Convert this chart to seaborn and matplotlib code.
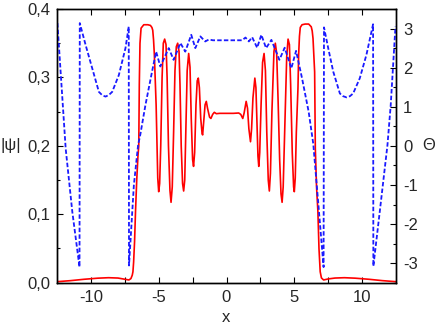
import matplotlib
matplotlib.use("Agg")
import matplotlib.pyplot as plt
import seaborn as sns
import pandas as pd
from matplotlib.ticker import FixedLocator, MultipleLocator

# |psi|(x)
psi_x = [-12.5, -11.5, -10.5, -9.5, -8.7, -8.0, -7.5, -7.2, -7.05, -6.95, -6.9, -6.85, -6.78, -6.71,
         -6.62, -6.53, -6.47, -6.43, -6.38, -6.3, -6.1, -5.8, -5.61, -5.5, -5.44, -5.38, -5.32, -5.19,
         -5.07, -5.0, -4.93, -4.85, -4.75, -4.66, -4.56, -4.46, -4.38, -4.28, -4.17, -4.09, -4.0, -3.9,
         -3.8, -3.7, -3.6, -3.5, -3.43, -3.34, -3.24, -3.16, -3.08, -3.0, -2.9, -2.79, -2.69, -2.6,
         -2.5, -2.43, -2.35, -2.25, -2.16, -2.08, -2.0, -1.9, -1.8, -1.76, -1.68, -1.58, -1.49, -1.4,
         -1.25, -1.15, -1.02, -0.9, -0.75, -0.5, 0.0, 0.5, 0.9, 1.05, 1.2, 1.3, 1.45, 1.55, 1.65,
         1.77, 1.85, 1.95, 2.09, 2.17, 2.25, 2.32, 2.38, 2.45, 2.55, 2.66, 2.77, 2.87, 2.97, 3.08,
         3.16, 3.24, 3.35, 3.5, 3.6, 3.7, 3.8, 3.92, 4.02, 4.1, 4.18, 4.3, 4.44, 4.54, 4.64, 4.73,
         4.85, 4.95, 5.0, 5.07, 5.15, 5.27, 5.32, 5.38, 5.44, 5.57, 5.8, 6.06, 6.25, 6.32, 6.38,
         6.45, 6.5, 6.55, 6.64, 6.74, 6.82, 6.91, 7.0, 7.16, 7.5, 8.0, 8.7, 9.5, 10.5, 11.5, 12.5]
psi_y = [0.0015, 0.003, 0.005, 0.0066, 0.0073, 0.0068, 0.005, 0.004, 0.006, 0.011, 0.016, 0.03, 0.06, 0.104,
         0.15, 0.185, 0.2, 0.29, 0.35, 0.372, 0.377, 0.377, 0.376, 0.373, 0.369, 0.355, 0.333, 0.26,
         0.153, 0.133, 0.145, 0.2, 0.3, 0.35, 0.356, 0.348, 0.3, 0.2, 0.135, 0.1175, 0.14, 0.22,
         0.31, 0.345, 0.35, 0.338, 0.29, 0.2, 0.145, 0.134, 0.15, 0.22, 0.31, 0.335, 0.315, 0.24,
         0.18, 0.17, 0.19, 0.26, 0.295, 0.299, 0.285, 0.24, 0.218, 0.216, 0.235, 0.26, 0.265, 0.255,
         0.242, 0.24, 0.246, 0.249, 0.247, 0.2475, 0.2475, 0.2475, 0.248, 0.246, 0.24, 0.248, 0.265, 0.255, 0.225,
         0.206, 0.225, 0.27, 0.299, 0.285, 0.23, 0.185, 0.17, 0.19, 0.26, 0.322, 0.335, 0.31, 0.22, 0.15,
         0.134, 0.16, 0.25, 0.338, 0.35, 0.335, 0.27, 0.18, 0.13, 0.1175, 0.14, 0.23, 0.33, 0.356, 0.348, 0.29,
         0.19, 0.14, 0.133, 0.153, 0.22, 0.284, 0.333, 0.36, 0.373, 0.377, 0.378, 0.378, 0.374, 0.368, 0.357,
         0.33, 0.308, 0.196, 0.14, 0.104, 0.05, 0.016, 0.007, 0.004, 0.0055, 0.0068, 0.0073, 0.0066, 0.005, 0.003, 0.0015]

# Theta(x)
theta_x = [-12.47, -11.86, -11.37, -10.84, -10.82, -10.39, -9.9, -9.41, -9.15, -8.92, -8.68, -8.43, -7.94,
           -7.45, -7.21, -7.19, -6.83, -6.52, -6.35, -5.98, -5.49, -5.19, -4.88, -4.26, -3.9, -3.4, -3.04,
           -2.6, -2.3, -1.93, -1.57, -1.3, -1.0, 0.0, 1.15, 1.4, 1.65, 1.89, 2.26, 2.57, 2.92, 3.31, 3.9,
           4.29, 4.78, 5.13, 5.57, 6.06, 6.4, 6.8, 7.16, 7.19, 7.5, 7.87, 8.36, 8.6, 8.85, 9.1, 9.34, 9.83,
           10.32, 10.81, 10.83, 11.3, 11.87, 12.11, 12.46]
theta_y = [3.14, -0.07, -1.69, -3.1, 3.14, 2.58, 1.98, 1.38, 1.29, 1.26, 1.3, 1.38, 1.81,
           2.5, 3.05, -3.06, -1.0, 0.02, 0.3, 1.04, 1.9, 2.41, 2.03, 2.5, 2.2, 2.63, 2.41,
           2.84, 2.5, 2.8, 2.67, 2.72, 2.7, 2.7, 2.7, 2.77, 2.67, 2.78, 2.51, 2.84, 2.5, 2.71, 2.2,
           2.51, 1.98, 2.43, 1.73, 0.87, 0.05, -1.6, -3.1, 3.03, 2.5, 1.9, 1.34, 1.27, 1.24, 1.27, 1.34, 1.73,
           2.33, 3.11, -3.08, -1.69, 0.02, 1.04, 3.05]

xticks_major = [-10, -7.5, -5, -2.5, 0, 2.5, 5, 7.5, 10]
xtick_labels = ["-10", "", "-5", "", "0", "", "5", "", "10"]
psi_ticks = [0.0, 0.1, 0.2, 0.3, 0.4]
psi_labels = ["0,0", "0,1", "0,2", "0,3", "0,4"]
theta_ticks = [-3, -2, -1, 0, 1, 2, 3]

sns.set_theme(style="ticks")
plt.rcParams["font.family"] = ["Liberation Sans", "DejaVu Sans"]
plt.rcParams["lines.scale_dashes"] = False

df_psi = pd.DataFrame({"x": psi_x, "psi": psi_y})
df_th = pd.DataFrame({"x": theta_x, "theta": theta_y})

fig = plt.figure(figsize=(4.36, 3.27), dpi=100)
ax = fig.add_axes([57 / 436, 1 - 282.7 / 327, (396 - 57) / 436, (282.7 - 9) / 327])
sns.lineplot(data=df_psi, x="x", y="psi", ax=ax, color="#ff0000", linewidth=1.2,
             sort=False, estimator=None)
ax.set_xlim(-12.5, 12.5)
ax.set_ylim(0, 0.4)
ax.xaxis.set_major_locator(FixedLocator(xticks_major))
ax.set_xticklabels(xtick_labels)
ax.set_yticks(psi_ticks)
ax.set_yticklabels(psi_labels)
ax.yaxis.set_minor_locator(MultipleLocator(0.05))
ax.tick_params(axis="x", which="major", direction="in", length=4, width=0.8, top=True,
               labelsize=12, pad=5, color="black")
ax.tick_params(axis="y", which="major", direction="in", length=4, width=0.8, labelsize=12, pad=5,
               color="black")
ax.tick_params(axis="y", which="minor", direction="in", length=2.5, width=0.8, color="black")
ax.set_xlabel("x", fontsize=12, labelpad=4)
ax.set_ylabel("|ψ|", fontsize=12, rotation=0, ha="center", va="center")
ax.yaxis.set_label_coords(-0.135, 0.5)

ax2 = ax.twinx()
sns.lineplot(data=df_th, x="x", y="theta", ax=ax2, color="#1a1aff", linewidth=1.3,
             sort=False, estimator=None, linestyle=(0, (3.2, 1.6)))
ax2.set_ylim(-3.5, 3.5)
ax2.set_yticks(theta_ticks)
ax2.set_yticklabels([str(t) for t in theta_ticks])
ax2.yaxis.set_minor_locator(MultipleLocator(0.5))
ax2.tick_params(axis="y", which="major", direction="in", length=4, width=0.8, labelsize=12, pad=5,
                color="black")
ax2.tick_params(axis="y", which="minor", direction="in", length=2.5, width=0.8, color="black")
ax2.set_ylabel("Θ", fontsize=12, rotation=0, ha="center", va="center")
ax2.yaxis.set_label_coords(1.095, 0.5)
ax2.set_xlim(-12.5, 12.5)

for a in (ax, ax2):
    for s in a.spines.values():
        s.set_color("black")
        s.set_linewidth(1.0)

fig.savefig("out.png", dpi=100)
